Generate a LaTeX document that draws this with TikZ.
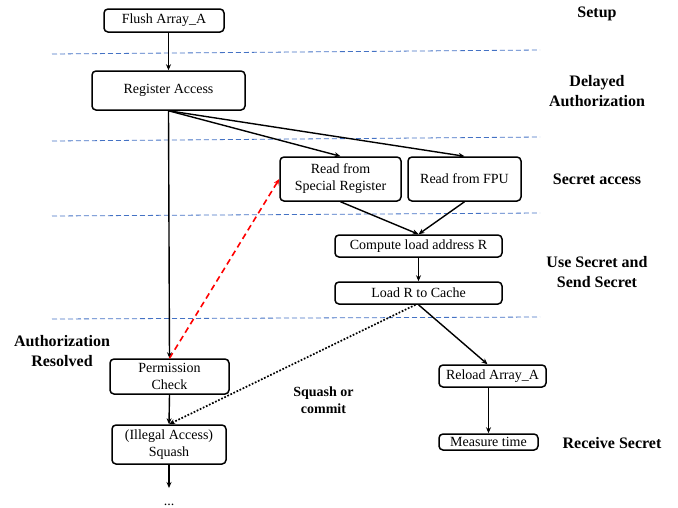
\documentclass[tikz,border=0pt]{standalone}
\usepackage{fontspec}
\setmainfont{Liberation Serif}
\usetikzlibrary{arrows.meta}
\definecolor{stageblue}{RGB}{68,114,196}
\begin{document}
\begin{tikzpicture}[x=1pt,y=-1pt,
    box/.style={draw,rounded corners=4pt,line width=1.5pt,inner sep=1pt,align=center,font=\fontsize{14}{17}\selectfont},
    stage/.style={align=center,font=\fontsize{16}{20}\selectfont\bfseries},
    arr/.style={line width=1.4pt,-{Stealth[length=6pt,width=5pt]}},
    sep/.style={stageblue,line width=0.8pt,dash pattern=on 5pt off 3pt}]

       \useasboundingbox (0,0) rectangle (678,507);

       \draw[sep] (52,54) -- (540,50);
       \draw[sep] (52,141) -- (540,137);
       \draw[sep] (52,216) -- (540,213);
       \draw[sep] (52,319) -- (540,317);

       \node[box, minimum width=120pt, minimum height=23pt] (flush) at (164,20.5) {Flush Array\_A};
       \node[box, minimum width=153pt, minimum height=39pt] (regacc) at (168.5,90.5) {Register Access};
       \node[box, minimum width=121pt, minimum height=44pt] (rdspec) at (340.5,179) {Read from\\Special Register};
       \node[box, minimum width=113pt, minimum height=44pt] (rdfpu) at (464.5,179) {Read from FPU};
       \node[box, minimum width=167pt, minimum height=22pt] (comp) at (418.5,246) {Compute load address R};
       \node[box, minimum width=167pt, minimum height=22pt] (load) at (418.5,293) {Load R to Cache};
       \node[box, minimum width=119pt, minimum height=35pt] (perm) at (169.5,376.5) {Permission\\Check};
       \node[box, minimum width=114pt, minimum height=39pt] (squash) at (169,444.5) {(Illegal Access)\\Squash};
       \node[box, minimum width=107pt, minimum height=22pt] (reload) at (492.5,376) {Reload Array\_A};
       \node[box, minimum width=99pt, minimum height=16pt, inner ysep=0pt] (measure) at (488.5,442) {Measure time};
       \node[font=\fontsize{14}{17}\selectfont, inner sep=0pt, anchor=base] (dots) at (169,505.5) {...};
       \coordinate (sqend) at (169,488);

       \node[stage] (setup) at (597,14) {Setup};
       \node[stage] (delayed) at (597,91) {Delayed\\Authorization};
       \node[stage] (secacc) at (597,179) {Secret access};
       \node[stage] (usesend) at (597,272) {Use Secret and\\Send Secret};
       \node[stage] (receive) at (612,443) {Receive Secret};
       \node[stage] (authres) at (62,351) {Authorization\\Resolved};
       \node[stage, font=\fontsize{14}{17}\selectfont\bfseries] (squashor) at (323.5,400) {Squash or\\commit};

       \draw[arr] (regacc.north |- flush.south) -- (regacc.north);
       \draw[arr] (regacc.south) -- (rdspec.north);
       \draw[arr] (regacc.south) -- (rdfpu.north);
       \draw[arr] (regacc.south) -- (perm.north);
       \draw[arr] (rdspec.south) -- (comp.north);
       \draw[arr] (rdfpu.south) -- (comp.north);
       \draw[arr] (comp.south) -- (load.north);
       \draw[arr] (load.south) -- ([xshift=-5pt]reload.north);
       \draw[arr] (measure.north |- reload.south) -- (measure.north);
       \draw[arr] (perm.south) -- (squash.north);
       \draw[arr] (squash.south) -- (sqend);
       \draw[arr, red, line width=1.6pt, dash pattern=on 6pt off 4pt] (perm.north) -- (rdspec.west);
       \draw[arr, line width=1.7pt, dash pattern=on 1.7pt off 1.7pt] ([xshift=-3pt]load.south) -- (squash.north);
     \end{tikzpicture}
\end{document}
